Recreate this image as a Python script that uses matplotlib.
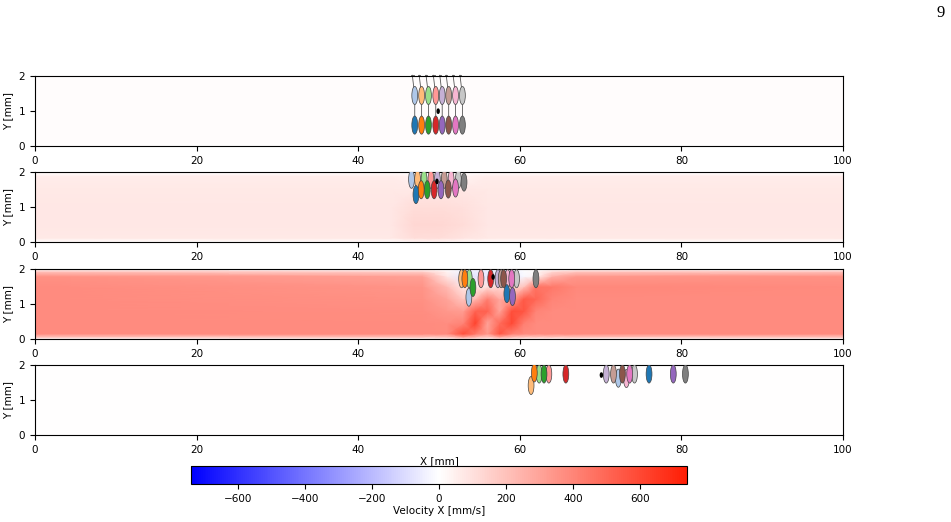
import matplotlib
matplotlib.use('Agg')
import matplotlib.pyplot as plt
import numpy as np
from matplotlib.patches import Ellipse
from matplotlib.colors import LinearSegmentedColormap, Normalize

# --- velocity field grids (x nodes, y nodes, values in mm/s) ---
f1_x = [0, 45, 50, 55, 100]
f1_y = [0, 0.12, 1.0, 1.88, 2.0]
f1_v = [[0, 0, 0, 0, 0],
        [6, 6, 8, 6, 6],
        [8, 8, 10, 8, 8],
        [6, 6, 6, 6, 6],
        [0, 0, 0, 0, 0]]

f2_x = [0, 44, 47, 50, 53, 56, 100]
f2_y = [0, 0.12, 0.5, 1.0, 1.5, 1.88, 2.0]
f2_v = [[0, 0, 20, 20, 10, 0, 0],
        [70, 70, 110, 110, 90, 70, 70],
        [80, 80, 130, 130, 110, 80, 80],
        [80, 80, 110, 110, 100, 80, 80],
        [75, 75, 70, 80, 80, 75, 75],
        [60, 60, 40, 40, 40, 60, 60],
        [0, 0, 0, 0, 0, 0, 0]]

f3_x = [0, 48, 51, 53, 54.5, 56, 57.5, 59, 60.5, 62, 64, 67, 100]
f3_y = [0, 0.06, 0.15, 0.45, 0.8, 1.15, 1.5, 1.8, 1.94, 2.0]
f3_v = [[0, 0, 0, 60, 40, 0, 60, 40, 0, 0, 0, 0, 0],
        [200, 200, 200, 320, 250, 180, 300, 230, 200, 200, 200, 200, 200],
        [380, 380, 380, 580, 440, 330, 560, 420, 380, 380, 380, 380, 380],
        [380, 380, 370, 400, 620, 300, 480, 600, 420, 380, 380, 380, 380],
        [380, 370, 340, 320, 520, 520, 300, 580, 560, 400, 380, 380, 380],
        [380, 360, 300, 180, 220, 420, 280, 300, 540, 500, 400, 380, 380],
        [380, 350, 220, 80, 60, 100, 120, 120, 200, 460, 440, 390, 380],
        [360, 310, 80, -60, -80, -60, -80, -60, -20, 40, 250, 340, 360],
        [180, 150, 30, -40, -50, -50, -50, -40, -10, 20, 120, 170, 180],
        [0, 0, 0, -30, -30, -30, -30, -30, 0, 0, 0, 0, 0]]

f4_x = [0, 100]
f4_y = [0, 1.0, 2.0]
f4_v = [[0, 0],
        [3, 3],
        [0, 0]]

# --- swimmer positions: light (upper) body and dark (lower) body, tab colours ---
p1_light_x = [47.0, 47.85, 48.7, 49.6, 50.4, 51.2, 52.05, 52.9]
p1_light_y = [1.45, 1.45, 1.45, 1.45, 1.45, 1.45, 1.45, 1.45]
p1_dark_x = [47.0, 47.85, 48.7, 49.6, 50.4, 51.2, 52.05, 52.9]
p1_dark_y = [0.6, 0.6, 0.6, 0.6, 0.6, 0.6, 0.6, 0.6]
p1_dot = (49.9, 1.0)

p2_light_x = [46.6, 47.35, 48.15, 49.0, 49.8, 50.65, 51.5, 52.4]
p2_light_y = [1.8, 1.8, 1.8, 1.8, 1.8, 1.8, 1.8, 1.8]
p2_dark_x = [47.15, 47.8, 48.55, 49.4, 50.25, 51.15, 52.05, 53.1]
p2_dark_y = [1.36, 1.5, 1.5, 1.5, 1.5, 1.52, 1.55, 1.72]
p2_dot = (49.75, 1.74)

p3_light_x = [53.7, 52.8, 53.75, 55.2, 57.3, 57.7, 58.5, 59.6]
p3_light_y = [1.2, 1.73, 1.73, 1.73, 1.73, 1.73, 1.73, 1.73]
p3_dark_x = [58.4, 53.2, 54.2, 56.4, 59.1, 58.0, 59.0, 62.0]
p3_dark_y = [1.3, 1.73, 1.48, 1.73, 1.22, 1.73, 1.73, 1.73]
p3_dot = (56.7, 1.78)

p4_light_x = [72.2, 61.4, 62.4, 63.6, 70.7, 71.6, 73.2, 74.2]
p4_light_y = [1.63, 1.42, 1.75, 1.75, 1.75, 1.75, 1.62, 1.75]
p4_dark_x = [76.0, 61.8, 63.0, 65.7, 79.0, 72.7, 73.6, 80.5]
p4_dark_y = [1.75, 1.78, 1.75, 1.75, 1.75, 1.75, 1.75, 1.75]
p4_dot = (70.1, 1.72)

tab = plt.get_cmap('tab20').colors
dark_cols = [tab[2 * i] for i in range(8)]
light_cols = [tab[2 * i + 1] for i in range(8)]

cmap = LinearSegmentedColormap.from_list('bwr_o', ['#0000ff', '#ffffff', '#ff1e05'])
norm = Normalize(vmin=-740, vmax=740)

plt.rcParams['font.size'] = 7.5
fig = plt.figure(figsize=(9.51, 5.22), dpi=100)

left, width, height = 0.0368, 0.8496, 0.1335
bottoms = [0.7203, 0.5364, 0.3506, 0.1667]
fields = [(f1_x, f1_y, f1_v), (f2_x, f2_y, f2_v), (f3_x, f3_y, f3_v), (f4_x, f4_y, f4_v)]
swimmers = [(p1_light_x, p1_light_y, p1_dark_x, p1_dark_y, p1_dot),
            (p2_light_x, p2_light_y, p2_dark_x, p2_dark_y, p2_dot),
            (p3_light_x, p3_light_y, p3_dark_x, p3_dark_y, p3_dot),
            (p4_light_x, p4_light_y, p4_dark_x, p4_dark_y, p4_dot)]

ew, eh = 0.72, 0.52
for k in range(4):
    ax = fig.add_axes([left, bottoms[k], width, height])
    fx, fy, fv = fields[k]
    X, Y = np.meshgrid(fx, fy)
    ax.pcolormesh(X, Y, np.array(fv, dtype=float), cmap=cmap, norm=norm, shading='gouraud')

    lx, ly, dx, dy, dot = swimmers[k]
    if k == 0:
        # tethers from the top wall
        for i in range(8):
            ax.plot([lx[i] - 0.3, lx[i], dx[i]], [2.03, ly[i], dy[i]], color='#555555',
                    lw=0.6, zorder=2, clip_on=False)
            ax.plot([lx[i] - 0.45, lx[i] - 0.15], [2.03, 2.03], color='#555555', lw=0.6,
                    clip_on=False)
    for i in range(8):
        ax.add_patch(Ellipse((lx[i], ly[i]), ew, eh, facecolor=light_cols[i],
                             edgecolor='#444444', lw=0.5, zorder=3))
    for i in range(8):
        ax.add_patch(Ellipse((dx[i], dy[i]), ew, eh, facecolor=dark_cols[i],
                             edgecolor='#444444', lw=0.5, zorder=4))
    ax.add_patch(Ellipse(dot, 0.25, 0.12, facecolor='black', edgecolor='black', zorder=5))

    ax.set_xlim(0, 100)
    ax.set_ylim(0, 2)
    ax.set_xticks([0, 20, 40, 60, 80, 100])
    ax.set_yticks([0, 1, 2])
    ax.set_ylabel('Y [mm]')
    if k == 3:
        ax.set_xlabel('X [mm]', labelpad=1)

cax = fig.add_axes([0.2008, 0.0728, 0.5216, 0.0345])
sm = plt.cm.ScalarMappable(norm=norm, cmap=cmap)
cb = fig.colorbar(sm, cax=cax, orientation='horizontal')
cb.set_ticks([-600, -400, -200, 0, 200, 400, 600])
cb.set_label('Velocity X [mm/s]', labelpad=2)

fig.text(0.993, 0.975, '9', family='Liberation Serif', fontsize=12, ha='right', va='center')

fig.savefig('out.png', dpi=100)
